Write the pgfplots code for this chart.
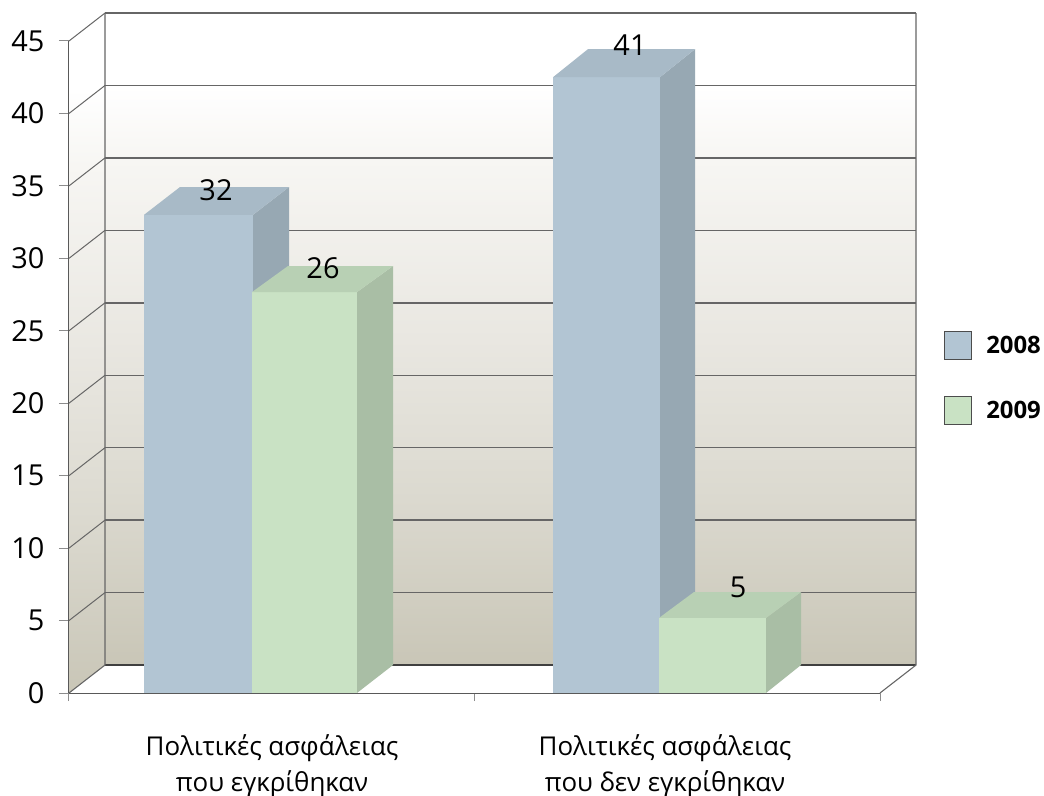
\documentclass[border=0pt]{standalone}
\usepackage{fontspec}
\setmainfont{Open Sans}
\usepackage{pgfplots}
\pgfplotsset{compat=1.18}
\definecolor{fb}{HTML}{B2C5D3}
\definecolor{tb}{HTML}{A8BAC7}
\definecolor{sb}{HTML}{97A8B3}
\definecolor{fg}{HTML}{C9E2C4}
\definecolor{tg}{HTML}{B8D0B4}
\definecolor{sg}{HTML}{A9BEA5}
\definecolor{walla}{HTML}{F7F6F3}
\definecolor{wallm}{HTML}{E9E7E1}
\definecolor{wallc}{HTML}{DBD9CF}
\definecolor{wallb}{HTML}{C9C6B7}
\definecolor{gridc}{HTML}{666666}
\pgfdeclareverticalshading{wall}{100bp}{color(0bp)=(wallb); color(25bp)=(wallb); color(37.7bp)=(wallc); color(50bp)=(wallm); color(63.8bp)=(walla); color(69.4bp)=(white); color(100bp)=(white)}
\begin{document}
\begin{tikzpicture}
\path[use as bounding box] (-69bp,-103bp) rectangle (975bp,693bp);
\begin{axis}[
  at={(0,0)}, anchor=south west,
  scale only axis, width=811bp, height=652bp,
  xmin=0, xmax=811, ymin=0, ymax=45,
  clip=false, axis on top,
  axis lines=left,
  axis line style={-, draw=black!65, line width=1bp},
  /pgf/number format/assume math mode=true,
  ytick={0,5,...,45},
  xtick={203,596},
  xticklabels={{Πολιτικές ασφάλειας\\που εγκρίθηκαν},{Πολιτικές ασφάλειας\\που δεν εγκρίθηκαν}},
  minor xtick={0,405.5,811},
  tick align=outside,
  major tick length=10bp,
  minor tick length=8bp,
  tick style={draw=black!45, line width=1bp},
  xtick style={draw=none},
  minor x tick style={draw=black!45, line width=1bp},
  yticklabel style={font=\fontsize{29}{30}\selectfont, text=black, xshift=-11bp},
  xticklabel style={font=\fontsize{26}{36}\selectfont, text=black, align=center, yshift=-28bp},
  legend style={draw=none, fill=none, at={(1.079,0.555)}, anchor=north west,
     font=\fontsize{24}{26}\selectfont\bfseries, row sep=36bp, column sep=12bp, inner sep=0pt},
  legend cell align=left,
  legend image code/.code={\draw[#1, draw=black!70, line width=1bp] (0bp,-14bp) rectangle (27bp,14bp);},
]
% walls and floor
\path[shading=wall]
  (axis cs:36,46.93) -- (axis cs:847,46.93) -- (axis cs:847,1.93) -- (axis cs:36,1.93) -- cycle;
\path[shading=wall]
  (axis cs:0,45) -- (axis cs:36,46.93) -- (axis cs:36,1.93) -- (axis cs:0,0) -- cycle;
% grid
\pgfplotsinvokeforeach{5,10,...,45}{
  \draw[gridc, line width=1bp] (axis cs:0,#1) -- (axis cs:36,#1+1.93);
  \draw[gridc, line width=1.5bp] (axis cs:36,#1+1.93) -- (axis cs:847,#1+1.93);
}
\draw[black!75, line width=1.6bp] (axis cs:36,1.93) -- (axis cs:847,1.93);
\draw[gridc, line width=1.1bp] (axis cs:0,0) -- (axis cs:36,1.93) -- (axis cs:36,46.93);
\draw[gridc, line width=1.1bp] (axis cs:847,46.93) -- (axis cs:847,1.93) -- (axis cs:811,0);
% 2008, first group
\addplot[draw=none, fill=fb] coordinates {(75,0) (184,0) (184,33) (75,33)} --cycle;
\addlegendentry{2008}
\addplot[forget plot, draw=none, fill=sb] coordinates {(184,0) (220,1.93) (220,34.92) (184,33)} --cycle;
\addplot[forget plot, draw=none, fill=tb] coordinates {(75,33) (184,33) (220,34.92) (111,34.92)} --cycle;
% 2009, first group
\addplot[draw=none, fill=fg] coordinates {(183,0) (288,0) (288,27.67) (183,27.67)} --cycle;
\addlegendentry{2009}
\addplot[forget plot, draw=none, fill=sg] coordinates {(288,0) (324,1.93) (324,29.47) (288,27.67)} --cycle;
\addplot[forget plot, draw=none, fill=tg] coordinates {(183,27.67) (288,27.67) (324,29.47) (219,29.47)} --cycle;
% 2008, second group
\addplot[forget plot, draw=none, fill=fb] coordinates {(484,0) (591,0) (591,42.5) (484,42.5)} --cycle;
\addplot[forget plot, draw=none, fill=sb] coordinates {(591,0) (626,1.93) (626,44.44) (591,42.5)} --cycle;
\addplot[forget plot, draw=none, fill=tb] coordinates {(484,42.5) (591,42.5) (626,44.44) (519,44.44)} --cycle;
% 2009, second group
\addplot[forget plot, draw=none, fill=fg] coordinates {(590,0) (697,0) (697,5.18) (590,5.18)} --cycle;
\addplot[forget plot, draw=none, fill=sg] coordinates {(697,0) (732,1.93) (732,6.97) (697,5.18)} --cycle;
\addplot[forget plot, draw=none, fill=tg] coordinates {(590,5.18) (697,5.18) (732,6.97) (625,6.97)} --cycle;
% value labels
\node[font=\fontsize{29}{30}\selectfont] at (axis cs:147,34.7) {32};
\node[font=\fontsize{29}{30}\selectfont] at (axis cs:254,29.3) {26};
\node[font=\fontsize{29}{30}\selectfont] at (axis cs:561,44.7) {41};
\node[font=\fontsize{29}{30}\selectfont] at (axis cs:669,7.3) {5};
\end{axis}
\end{tikzpicture}
\end{document}
